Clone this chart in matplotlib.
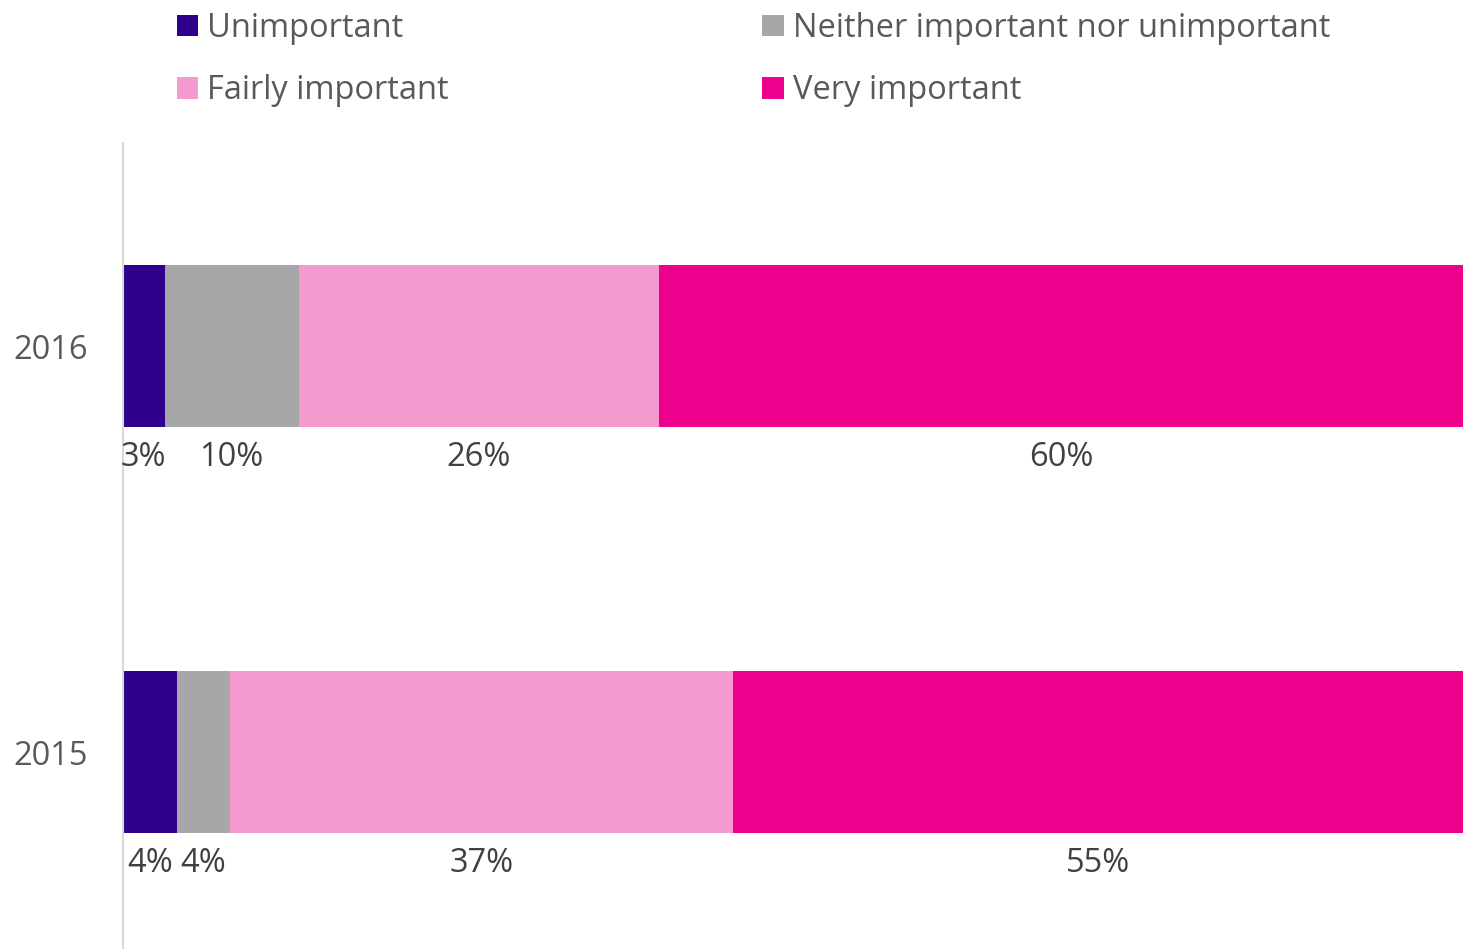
import matplotlib
matplotlib.use("Agg")
import matplotlib.pyplot as plt
import numpy as np
from matplotlib.patches import Patch

years = ["2015", "2016"]
categories = ["Unimportant", "Neither important nor unimportant",
              "Fairly important", "Very important"]
# bar widths (share of respondents, %) per category, one entry per year
values = {
    "Unimportant": [4.0, 3.1],
    "Neither important nor unimportant": [4.0, 10.0],
    "Fairly important": [37.5, 26.9],
    "Very important": [54.5, 60.0],
}
# data labels as printed on the chart
labels = {
    "Unimportant": ["4%", "3%"],
    "Neither important nor unimportant": ["4%", "10%"],
    "Fairly important": ["37%", "26%"],
    "Very important": ["55%", "60%"],
}
colors = {
    "Unimportant": "#2E008B",
    "Neither important nor unimportant": "#A7A7A9",
    "Fairly important": "#F59ACF",
    "Very important": "#EC008C",
}

plt.rcParams["font.family"] = ["Open Sans", "DejaVu Sans"]
FS = 23.5

W, H = 1463, 949
fig = plt.figure(figsize=(W / 100, H / 100), dpi=100)
ax = fig.add_axes([123 / W, 0, 1340 / W, 1 - 143 / H])

ypos = np.arange(len(years))
left = np.zeros(len(years))
bar_h = 0.4
for cat in categories:
    widths = np.array(values[cat], dtype=float)
    ax.barh(ypos, widths, left=left, height=bar_h, color=colors[cat],
            edgecolor="none", zorder=2)
    for y, l, w, txt in zip(ypos, left, widths, labels[cat]):
        ax.annotate(txt, xy=(l + w / 2, y - bar_h / 2),
                    xytext=(0, -22), textcoords="offset points",
                    ha="center", va="center", fontsize=FS, color="#404040")
    left += widths

ax.set_xlim(0, 100)
ax.set_ylim(-0.485, 1.5)
ax.set_yticks(ypos)
ax.set_yticklabels(years)
ax.set_xticks([])
ax.tick_params(axis="y", length=0, pad=25, labelsize=FS, labelcolor="#595959")
for s in ["top", "right", "bottom"]:
    ax.spines[s].set_visible(False)
ax.spines["left"].set_color("#D9D9D9")
ax.spines["left"].set_linewidth(1.5)

order = ["Unimportant", "Fairly important",
         "Neither important nor unimportant", "Very important"]
handles = [Patch(facecolor=colors[c], edgecolor="none", label=c) for c in order]
leg = fig.legend(handles=handles, loc="upper left",
                 bbox_to_anchor=(177 / W, 1 - 12 / H), ncol=2, frameon=False,
                 fontsize=FS, handlelength=0.65, handleheight=0.65,
                 handletextpad=0.28, columnspacing=9.6, labelspacing=0.9,
                 borderpad=0, borderaxespad=0)
for t in leg.get_texts():
    t.set_color("#595959")

fig.savefig("out.png", dpi=100, facecolor="white")
